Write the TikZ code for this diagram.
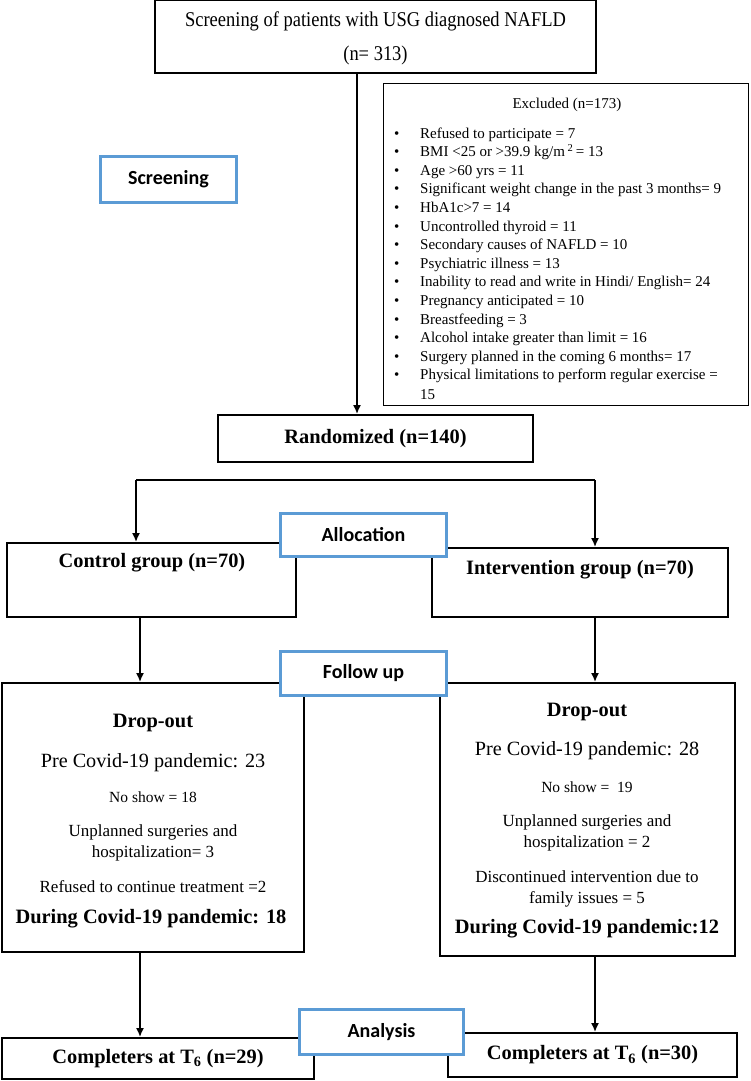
\documentclass[tikz,border=0pt]{standalone}
\usepackage{fontspec}
\setmainfont{Liberation Serif}
\newfontfamily\condserif[FakeStretch=0.88]{Liberation Serif}
\newfontfamily\calibri{Carlito}
\usetikzlibrary{arrows.meta,positioning}
\definecolor{stageblue}{RGB}{91,155,213}

\begin{document}
\begin{tikzpicture}[x=1pt,y=-1pt,
  box/.style={draw,line width=1.8pt,inner sep=0pt},
  stage/.style={draw=stageblue,line width=3pt,fill=white,inner sep=0pt,
    font=\calibri\bfseries\fontsize{20}{24}\selectfont},
  arr/.style={-{Latex[length=9pt,width=8pt]},line width=1.8pt},
  bold/.style={font=\bfseries\fontsize{20.4}{24}\selectfont},
  pre/.style={font=\fontsize{20.2}{24}\selectfont},
  mid/.style={font=\fontsize{17}{21}\selectfont,align=center},
  small/.style={font=\fontsize{15.5}{18}\selectfont},
  list/.style={font=\fontsize{15}{18}\selectfont,inner sep=0pt,anchor=base west}]
\useasboundingbox (0,0) rectangle (750,1081);

% screening
\node[box,line width=2.2pt,minimum width=441pt,minimum height=73pt] (top) at (375.5,36.5) {};
\node[font=\condserif\fontsize{21}{25}\selectfont] (toptxt) at (375.5,21) {Screening of patients with USG diagnosed NAFLD};
\node[font=\condserif\fontsize{21}{25}\selectfont] (topn) at (375.5,55) {(n= 313)};

\node[draw,line width=0.9pt,minimum width=365pt,minimum height=322pt] (excl) at (565.5,244) {};
\node[font=\fontsize{15}{18}\selectfont] (excltitle) at (567,105) {Excluded (n=173)};
\foreach \reason [count=\i] in {Refused to participate = 7,
    BMI <25 or >39.9 kg/m\,\textsuperscript{2}\,= 13,
    Age >60 yrs = 11,
    Significant weight change in the past 3 months= 9,
    HbA1c>7 = 14,
    Uncontrolled thyroid = 11,
    Secondary causes of NAFLD = 10,
    Psychiatric illness = 13,
    Inability to read and write in Hindi/ English= 24,
    Pregnancy anticipated = 10,
    Breastfeeding = 3,
    Alcohol intake greater than limit = 16,
    Surgery planned in the coming 6 months= 17,
    Physical limitations to perform regular exercise =}
{
  \node[list] (b\i) at (394,{138+18.6*(\i-1)}) {\textbullet};
  \node[list] (ex\i) at (420,{138+18.6*(\i-1)}) {\reason};
}
\node[list] (ex15) at (420,399) {15};

\node[box,minimum width=315pt,minimum height=47pt,bold] (rand) at (375.5,438.5) {Randomized (n=140)};
\coordinate (topout) at (357,0);
\draw[arr] (topout |- top.south) -- (topout |- rand.north);

% allocation
\node[box,minimum width=289pt,minimum height=74pt] (ctrl) at (151.5,580) {};
\node[bold] (ctrltxt) at (152,563) {Control group (n=70)};
\node[box,minimum width=296pt,minimum height=69pt] (intv) at (580,582.5) {};
\node[bold] (intvtxt) at (580,570) {Intervention group (n=70)};

\coordinate (brL) at (136,480);
\coordinate (brR) at (595,480);
\draw[line width=1.8pt] (brL) -- (brR);
\draw[arr] (brL) -- (brL |- ctrl.north);
\draw[arr] (brR) -- (brR |- intv.north);

% follow up
\node[box,minimum width=302pt,minimum height=269pt] (dropL) at (153,817.5) {};
\node[bold] (dlhead) at (153,723) {Drop-out};
\node[pre] (dlpre) at (153,763) {Pre Covid-19 pandemic: 23};
\node[small] (dlno) at (153,797) {No show = 18};
\node[mid] (dlunp) at (153,842.5) {Unplanned surgeries and\\hospitalization= 3};
\node[mid] (dlref) at (153,887) {Refused to continue treatment =2};
\node[bold] (dldur) at (151,919) {During Covid-19 pandemic: 18};

\node[box,minimum width=295pt,minimum height=273pt] (dropR) at (587.5,819.5) {};
\node[bold] (drhead) at (587,712) {Drop-out};
\node[pre] (drpre) at (587,751) {Pre Covid-19 pandemic: 28};
\node[small] (drno) at (587,787) {No show =\ \ 19};
\node[mid] (drunp) at (587,832.5) {Unplanned surgeries and\\hospitalization = 2};
\node[mid] (drdis) at (587,888.5) {Discontinued intervention due to\\family issues = 5};
\node[bold] (drdur) at (587,929) {During Covid-19 pandemic:12};

\coordinate (lcol) at (140,0);
\coordinate (rcol) at (595,0);
\draw[arr] (lcol |- ctrl.south) -- (lcol |- dropL.north);
\draw[arr] (rcol |- intv.south) -- (rcol |- dropR.north);

% analysis
\node[box,minimum width=312pt,minimum height=41pt,bold] (compL) at (158,1058.5) {Completers at T\textsubscript{6} (n=29)};
\node[box,minimum width=289pt,minimum height=44pt,bold] (compR) at (592.5,1055) {Completers at T\textsubscript{6} (n=30)};
\draw[arr] (lcol |- dropL.south) -- (lcol |- compL.north);
\draw[arr] (rcol |- dropR.south) -- (rcol |- compR.north);

% stage labels
\node[stage,minimum width=136pt,minimum height=46pt] (screen) at (168.5,179.5) {Screening};
\node[stage,minimum width=166pt,minimum height=43pt] (alloc) at (363.5,535) {Allocation};
\node[stage,minimum width=166pt,minimum height=44pt] (follow) at (363.5,673.5) {Follow up};
\node[stage,minimum width=164pt,minimum height=45pt] (anal) at (381.5,1032) {Analysis};
\end{tikzpicture}
\end{document}
